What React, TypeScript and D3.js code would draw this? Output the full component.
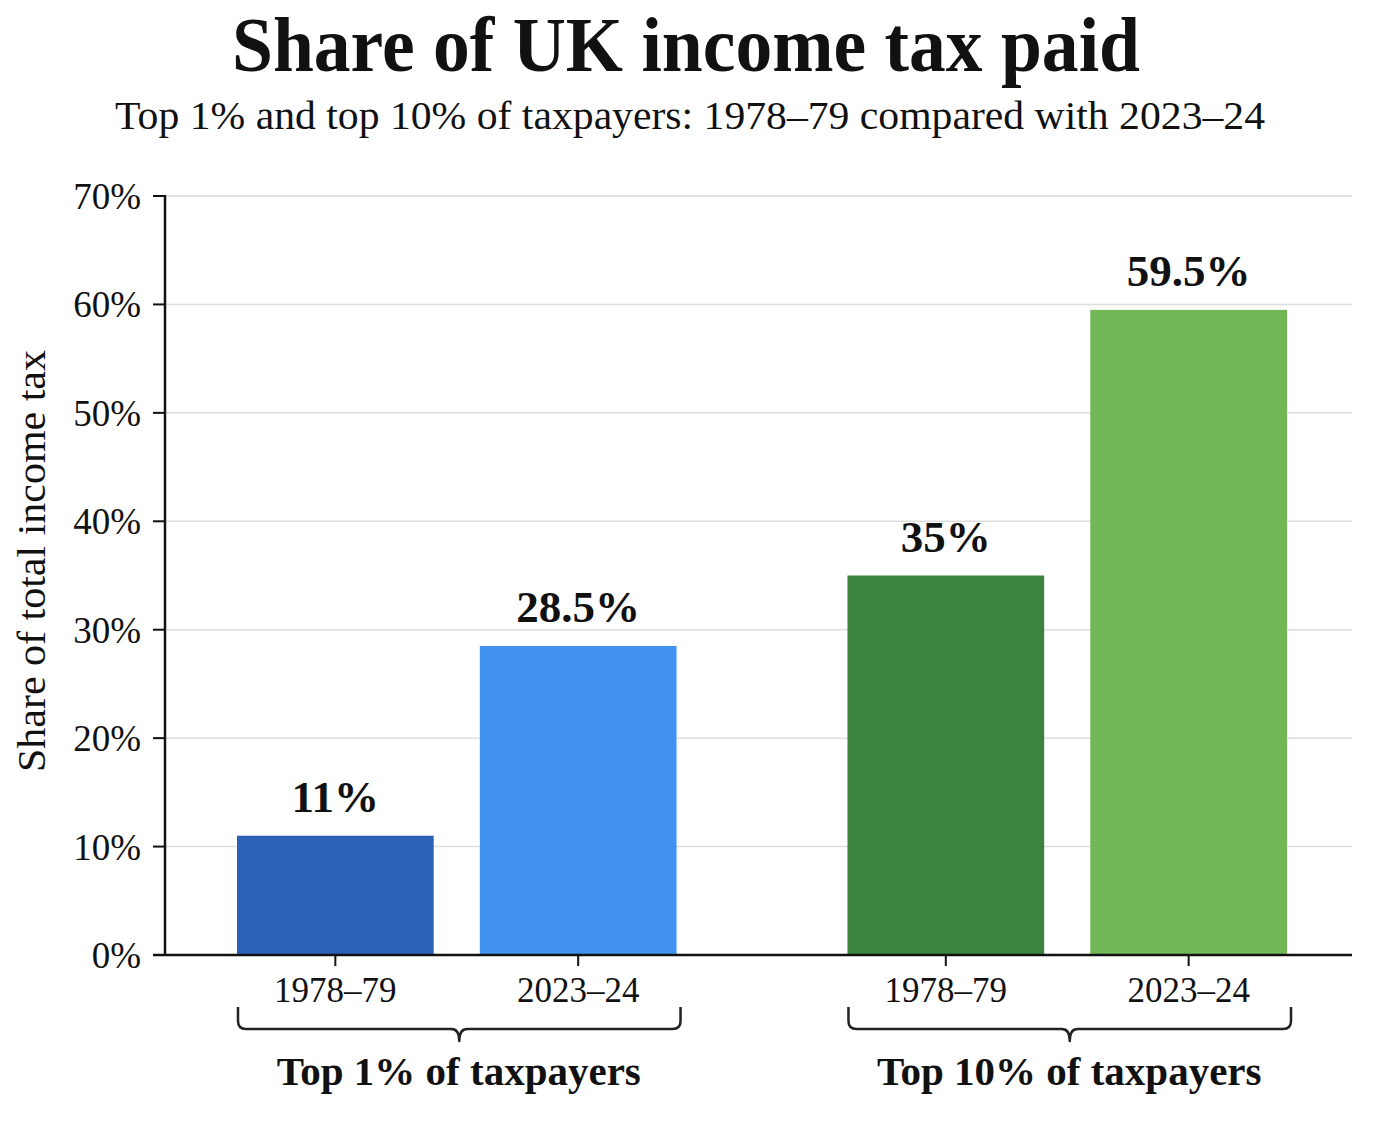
import {scaleBand, scaleLinear} from "d3";

const groups = ["Top 1% of taxpayers", "Top 10% of taxpayers"];
const years = ["1978–79", "2023–24"];
const values = [
    [11, 28.5],
    [35, 59.5],
];
const valueLabels = [
    ["11%", "28.5%"],
    ["35%", "59.5%"],
];
const barColors = [
    ["#2b62b8", "#4192f1"],
    ["#3a843e", "#72b756"],
];
const yTicks = [0, 10, 20, 30, 40, 50, 60, 70];

const W = 1374;
const H = 1145;
const FONT = "'Liberation Serif', 'DejaVu Serif', serif";

export default function App() {
    const y = scaleLinear().domain([0, 70]).range([955, 196]);
    const xAxisLeft = 165;
    const xAxisRight = 1352;
    const x0 = scaleBand<string>()
        .domain(groups)
        .range([237, 1287])
        .paddingInner(0.28)
        .paddingOuter(0);
    const x1 = scaleBand<string>()
        .domain(years)
        .range([0, x0.bandwidth()])
        .paddingInner(0.19)
        .paddingOuter(0);

    const bracePath = (g: string) => {
        const l = x0(g)! + 1;
        const r = x0(g)! + x0.bandwidth() + 4;
        const c = (l + r) / 2;
        const top = 1007, mid = 1029, tip = 1041;
        return `M${l},${top} V${mid - 8} Q${l},${mid} ${l + 8},${mid} H${c - 8} Q${c},${mid} ${c},${tip}` +
            ` Q${c},${mid} ${c + 8},${mid} H${r - 8} Q${r},${mid} ${r},${mid - 8} V${top}`;
    };

    return <>
        <style>{`body{margin:0}`}</style>
        <svg width={W} height={H} style={{display: "block", background: "#fff"}} fontFamily={FONT}>
            <rect width={W} height={H} fill="#fff"/>
            <text x={686} y={71} textAnchor="middle" fontSize={78} fontWeight="bold" fill="#111"
                  textLength={908} lengthAdjust="spacingAndGlyphs">Share of UK income tax paid</text>
            <text x={690} y={129} textAnchor="middle" fontSize={39} fill="#111"
                  textLength={1150} lengthAdjust="spacingAndGlyphs">Top 1% and top 10% of taxpayers: 1978–79 compared with 2023–24</text>

            {/* gridlines */}
            {yTicks.filter(t => t > 0).map(t =>
                <line key={t} x1={xAxisLeft} x2={xAxisRight} y1={y(t)} y2={y(t)} stroke="#dddddd" strokeWidth={1.5}/>
            )}

            {/* bars */}
            {groups.map((g, gi) => years.map((yr, yi) => {
                const bx = x0(g)! + x1(yr)!;
                const cx = bx + x1.bandwidth() / 2;
                return <g key={`${gi}-${yi}`}>
                    <rect x={bx} y={y(values[gi][yi])} width={x1.bandwidth()} height={y(0) - y(values[gi][yi])}
                          fill={barColors[gi][yi]}/>
                    <text x={cx} y={y(values[gi][yi]) - 24} textAnchor="middle"
                          fontSize={45} fontWeight="bold" fill="#111">{valueLabels[gi][yi]}</text>
                    <line x1={cx} x2={cx} y1={y(0)} y2={y(0) + 11} stroke="#111" strokeWidth={2}/>
                    <text x={cx} y={1002} textAnchor="middle" fontSize={35} fill="#111">{yr}</text>
                </g>;
            }))}

            {/* y axis */}
            <line x1={xAxisLeft} x2={xAxisLeft} y1={y(70) - 1} y2={y(0) + 1} stroke="#111" strokeWidth={2.5}/>
            {yTicks.map(t =>
                <g key={t}>
                    <line x1={153} x2={xAxisLeft} y1={y(t)} y2={y(t)} stroke="#111" strokeWidth={2}/>
                    <text x={141} y={y(t)} dy="0.35em" textAnchor="end" fontSize={37} fill="#111">{t}%</text>
                </g>
            )}
            <line x1={153} x2={xAxisRight} y1={y(0)} y2={y(0)} stroke="#111" strokeWidth={2.5}/>
            <text transform={`translate(45,${561}) rotate(-90)`} textAnchor="middle" fontSize={39} fill="#111"
                  textLength={422} lengthAdjust="spacingAndGlyphs">
                Share of total income tax
            </text>

            {/* group braces */}
            {groups.map(g =>
                <g key={g}>
                    <path d={bracePath(g)} fill="none" stroke="#222" strokeWidth={2.5} strokeLinejoin="round"/>
                    <text x={x0(g)! + x0.bandwidth() / 2 + 2} y={1085} textAnchor="middle" fontSize={41}
                          fontWeight="bold" fill="#111">{g}</text>
                </g>
            )}
        </svg>
    </>;
}
